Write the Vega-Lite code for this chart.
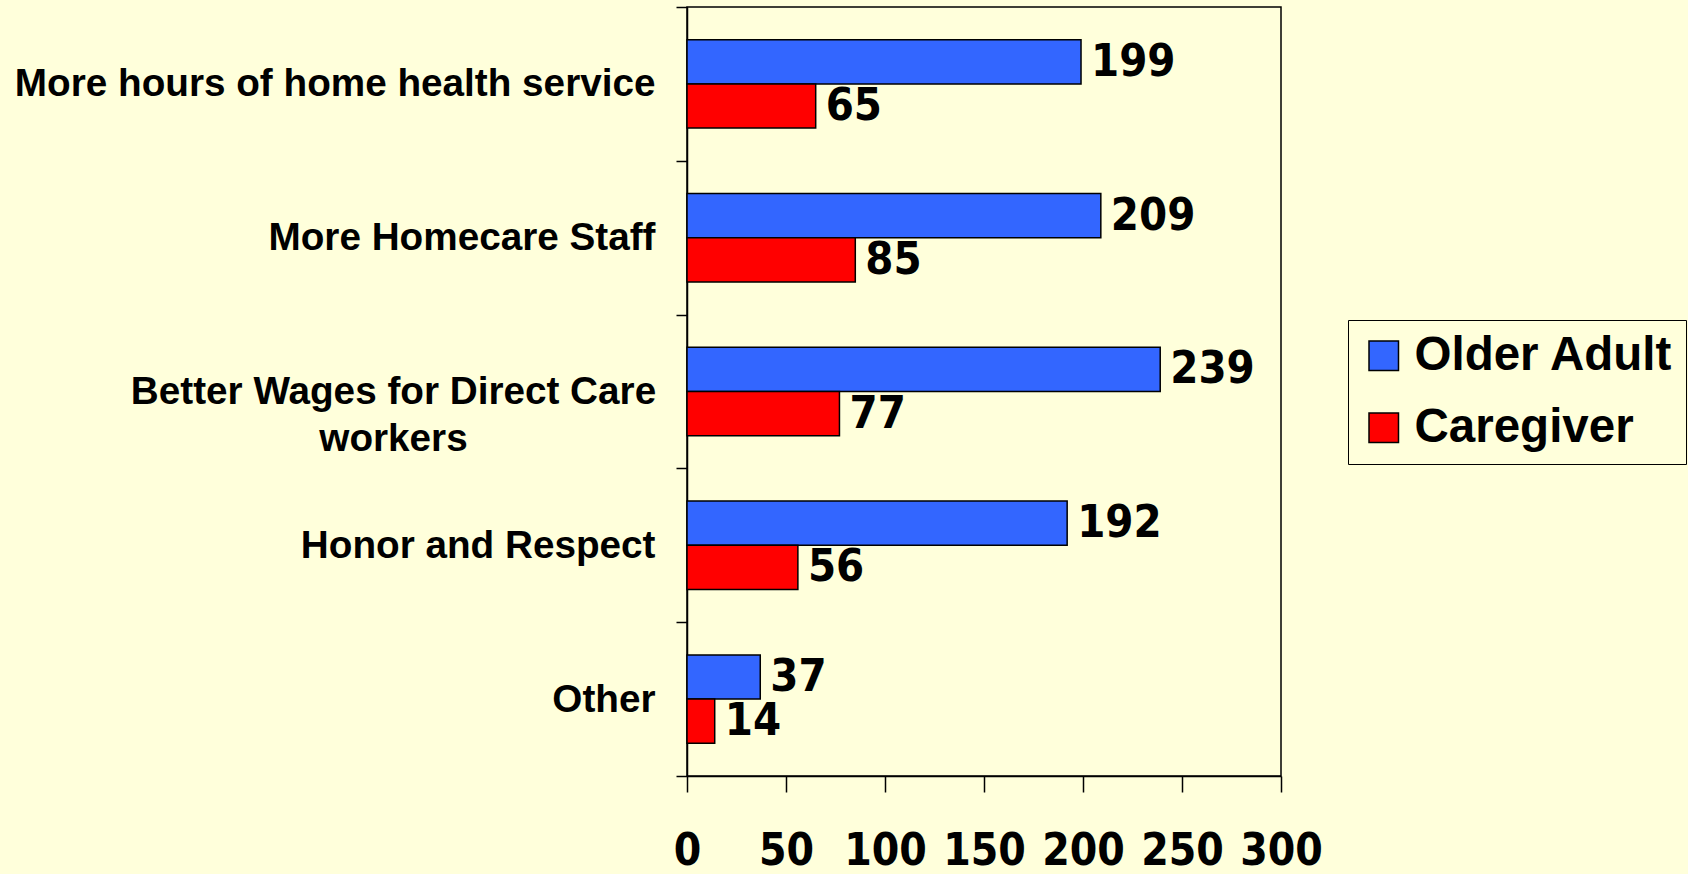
{
  "$schema": "https://vega.github.io/schema/vega-lite/v6.json",
  "width": 594,
  "height": 769,
  "autosize": {"type": "none"},
  "padding": {"left": 687, "top": 7, "right": 407, "bottom": 98},
  "background": "#FFFFDB",
  "config": {
    "view": {"stroke": "black", "strokeWidth": 1.5},
    "axis": {"grid": false, "domainColor": "black", "domainWidth": 1.5, "tickColor": "black", "tickWidth": 1.5, "labelColor": "black", "title": null}
  },
  "data": {
    "values": [
      {"need": "More hours of home health service", "group": "Older Adult", "count": 199},
      {"need": "More hours of home health service", "group": "Caregiver", "count": 65},
      {"need": "More Homecare Staff", "group": "Older Adult", "count": 209},
      {"need": "More Homecare Staff", "group": "Caregiver", "count": 85},
      {"need": "Better Wages for Direct Care workers", "group": "Older Adult", "count": 239},
      {"need": "Better Wages for Direct Care workers", "group": "Caregiver", "count": 77},
      {"need": "Honor and Respect", "group": "Older Adult", "count": 192},
      {"need": "Honor and Respect", "group": "Caregiver", "count": 56},
      {"need": "Other", "group": "Older Adult", "count": 37},
      {"need": "Other", "group": "Caregiver", "count": 14}
    ]
  },
  "encoding": {
    "y": {
      "field": "need",
      "type": "nominal",
      "sort": ["More hours of home health service", "More Homecare Staff", "Better Wages for Direct Care workers", "Honor and Respect", "Other"],
      "scale": {"paddingInner": 0, "paddingOuter": 0},
      "axis": {
        "tickBand": "extent",
        "tickSize": 11,
        "labelFont": "Liberation Sans",
        "labelFontWeight": "bold",
        "labelFontSize": 38.7,
        "labelLimit": 800,
        "labelLineHeight": 47,
        "labelPadding": {"condition": {"test": "datum.value == 'Better Wages for Direct Care workers'", "value": 283}, "value": 21},
        "labelAlign": {"condition": {"test": "datum.value == 'Better Wages for Direct Care workers'", "value": "center"}, "value": "right"},
        "labelExpr": "datum.value == 'Better Wages for Direct Care workers' ? ['Better Wages for Direct Care', 'workers'] : datum.value"
      }
    },
    "yOffset": {"field": "group", "sort": ["Older Adult", "Caregiver"], "scale": {"paddingInner": 0, "paddingOuter": 0.74}}
  },
  "layer": [
    {
      "mark": {"type": "bar", "stroke": "black", "strokeWidth": 1.5},
      "encoding": {
        "x": {
          "field": "count",
          "type": "quantitative",
          "scale": {"domain": [0, 300]},
          "axis": {
            "values": [0, 50, 100, 150, 200, 250, 300],
            "tickSize": 16,
            "labelFont": "DejaVu Sans Condensed, Liberation Sans",
            "labelFontWeight": "bold",
            "labelFontSize": 44,
            "labelPadding": 37,
            "labelFlush": false
          }
        },
        "color": {
          "field": "group",
          "type": "nominal",
          "sort": ["Older Adult", "Caregiver"],
          "scale": {"domain": ["Older Adult", "Caregiver"], "range": ["#3366FF", "#FF0000"]},
          "legend": {
            "title": null,
            "orient": "none",
            "legendX": 661,
            "legendY": 313,
            "strokeColor": "black",
            "fillColor": "#FFFFDB",
            "padding": 12,
            "symbolType": "square",
            "symbolSize": 870,
            "symbolStrokeColor": "black",
            "symbolStrokeWidth": 1.5,
            "symbolOpacity": 1,
            "labelFont": "Liberation Sans",
            "labelFontWeight": "bold",
            "labelFontSize": 47.5,
            "labelColor": "black",
            "labelOffset": 7,
            "labelLimit": 400,
            "rowPadding": 23
          }
        }
      }
    },
    {
      "mark": {"type": "text", "align": "left", "baseline": "middle", "dx": 10, "font": "DejaVu Sans Condensed, Liberation Sans", "fontWeight": "bold", "fontSize": 45, "color": "black"},
      "encoding": {
        "x": {"field": "count", "type": "quantitative"},
        "text": {"field": "count", "type": "quantitative"}
      }
    }
  ]
}
